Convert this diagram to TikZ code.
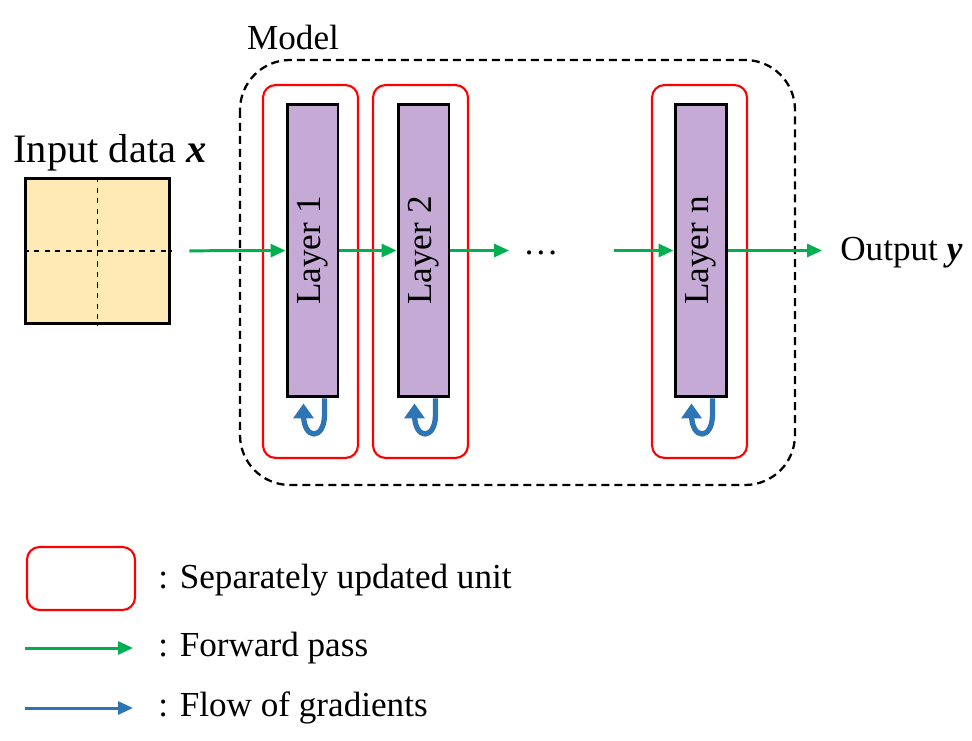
\documentclass[tikz,border=0pt]{standalone}
\usepackage{fontspec}
\setmainfont{Liberation Serif}
\usetikzlibrary{arrows.meta,positioning,calc}
\definecolor{cFwd}{HTML}{00B050}
\definecolor{cGrad}{HTML}{2E75B6}
\definecolor{cUnit}{HTML}{FF0000}
\definecolor{cLayer}{HTML}{C5AAD6}
\definecolor{cInput}{HTML}{FFEAB5}
\tikzset{
  unitbox/.style={draw=cUnit, line width=1.2pt, rounded corners=0.25cm,
    minimum width=1.9cm, minimum height=7.46cm, inner sep=0pt},
  layerbox/.style={draw=black, line width=1.7pt, fill=cLayer, rotate=90,
    minimum width=5.86cm, minimum height=1.02cm, inner sep=0pt},
  inputbox/.style={draw=black, line width=1.7pt, fill=cInput,
    minimum size=2.9cm, inner sep=0pt},
  modelbox/.style={draw=black, line width=1.3pt, dash pattern=on 0.16cm off 0.1cm,
    rounded corners=1cm},
  fwd/.style={-{Triangle[length=0.3cm, width=0.26cm]}, draw=cFwd, line width=1.7pt},
  grad/.style={-{Triangle[length=0.3cm, width=0.4cm]}, draw=cGrad, line width=3pt},
  lbl/.style={inner sep=0pt},
}

\begin{document}
\begin{tikzpicture}[x=0.02cm, y={(0,-0.02cm)}, font=\fontsize{20}{24}\selectfont]
    \useasboundingbox (0,0) rectangle (972,740);
    % model frame
    \draw[modelbox] (240,60) rectangle (795,485);
    \node[lbl] (model) at (293,37) {Model};
    % input
    \node[lbl, font=\fontsize{23}{27}\selectfont] (inlabel) at (110,153) {Input data \textbf{\textit{x}}};
    \node[inputbox] (inp) at (97.5,251) {};
    \draw[dashed, line width=0.6pt] (inp.north) -- (inp.south);
    \draw[dashed, line width=0.6pt] (inp.west) -- (inp.east);
    % separately updated units
    \node[unitbox] (u1) at (310.5,271.5) {};
    \node[unitbox] (u2) at (420.5,271.5) {};
    \node[unitbox] (un) at (699.5,271.5) {};
    % layers
    \node[layerbox] (l1) at (312.5,250.5) {Layer 1};
    \node[layerbox] (l2) at (423.5,250.5) {Layer 2};
    \node[layerbox] (ln) at (700.5,250.5) {Layer n};
    \node[lbl] (dots) at (541,253) {\dots};
    \node[lbl, anchor=west] (out) at (840,253) {Output \textbf{\textit{y}}};
    % forward pass
    \draw[fwd, shorten <=0.36cm] (inp) -- (l1);
    \draw[fwd] (l1) -- (l2);
    \draw[fwd, shorten >=0.28cm] (l2.south) -- (l2.south -| dots.west);
    \draw[fwd, shorten <=1.1cm] (ln.north -| dots.east) -- (ln.north);
    \draw[fwd, shorten >=0.36cm] (ln) -- (ln -| out.west);
    % gradient loops
    \draw[grad] ($(l1.west)+(12,0)$) -- ($(l1.west)+(12,16)$)
      .. controls ($(l1.west)+(12,42)$) and ($(l1.west)+(-9,42)$) .. ($(l1.west)+(-9,16)$)
      -- ($(l1.west)+(-9,5)$);
    \draw[grad] ($(l2.west)+(12,0)$) -- ($(l2.west)+(12,16)$)
      .. controls ($(l2.west)+(12,42)$) and ($(l2.west)+(-9,42)$) .. ($(l2.west)+(-9,16)$)
      -- ($(l2.west)+(-9,5)$);
    \draw[grad] ($(ln.west)+(12,0)$) -- ($(ln.west)+(12,16)$)
      .. controls ($(ln.west)+(12,42)$) and ($(ln.west)+(-9,42)$) .. ($(ln.west)+(-9,16)$)
      -- ($(ln.west)+(-9,5)$);
    % legend
    \node[unitbox, minimum width=2.16cm, minimum height=1.26cm] (legunit) at (81,578.5) {};
    \node[lbl, anchor=west] (legunittxt) at (158,580) {: Separately updated unit};
    \coordinate (fwdA) at (25,648);
    \coordinate (fwdB) at (133,648);
    \draw[fwd] (fwdA) -- (fwdB);
    \node[lbl, anchor=west] (legfwd) at (158,648) {: Forward pass};
    \coordinate (gradA) at (25,708);
    \coordinate (gradB) at (133,708);
    \draw[fwd, draw=cGrad] (gradA) -- (gradB);
    \node[lbl, anchor=west] (leggrad) at (158,708) {: Flow of gradients};
\end{tikzpicture}
\end{document}
